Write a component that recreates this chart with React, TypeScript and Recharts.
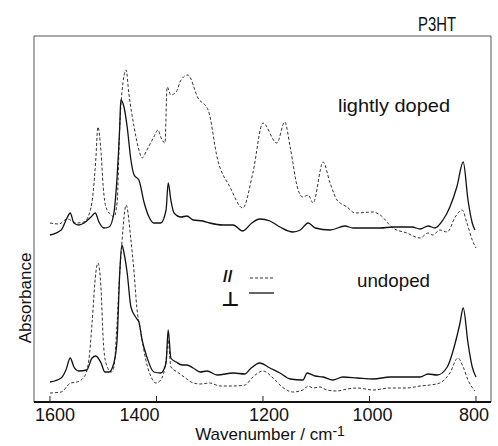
import React from "react";
import { LineChart, Line, XAxis, YAxis, ReferenceArea } from "recharts";

// Wavenumber (cm-1) vs absorbance (arbitrary units, curves offset vertically)
const dopedParallel: [number, number][] = [
  [1600, 179], [1583, 178], [1568, 183], [1549, 179], [1536, 180], [1527, 187], [1519, 209],
  [1514, 242], [1510, 275], [1504, 249], [1500, 215], [1495, 195], [1485, 187], [1480, 185],
  [1474, 199], [1469, 275], [1465, 309], [1457, 332], [1452, 309], [1442, 275], [1433, 252],
  [1427, 244], [1418, 252], [1405, 265], [1397, 272], [1392, 265], [1384, 259], [1380, 315],
  [1373, 307], [1363, 310], [1354, 322], [1341, 327], [1322, 304], [1303, 292], [1285, 242],
  [1262, 215], [1238, 194], [1219, 229], [1200, 279], [1174, 259], [1159, 280], [1149, 255],
  [1134, 212], [1125, 205], [1115, 207], [1106, 199], [1087, 240], [1074, 219], [1061, 202],
  [1042, 195], [1027, 189], [993, 190], [980, 187], [956, 174], [930, 169], [905, 164],
  [890, 169], [881, 167], [868, 172], [854, 170], [839, 185], [826, 192], [817, 179],
  [807, 162], [800, 154],
];

const dopedPerpendicular: [number, number][] = [
  [1600, 167], [1579, 172], [1568, 184], [1562, 189], [1555, 179], [1546, 177], [1536, 179],
  [1523, 185], [1515, 189], [1508, 180], [1499, 174], [1489, 175], [1480, 189], [1474, 225],
  [1469, 275], [1467, 302], [1461, 295], [1455, 275], [1448, 242], [1442, 227], [1433, 222],
  [1423, 199], [1414, 185], [1405, 179], [1392, 179], [1382, 192], [1378, 219], [1373, 202],
  [1367, 189], [1354, 185], [1343, 186], [1331, 182], [1313, 181], [1300, 179], [1275, 177],
  [1256, 177], [1238, 171], [1221, 179], [1206, 183], [1187, 181], [1168, 175], [1144, 170],
  [1130, 172], [1115, 179], [1102, 174], [1074, 172], [1046, 176], [1031, 174], [1005, 174],
  [980, 174], [956, 175], [920, 175], [905, 173], [890, 176], [877, 174], [862, 182],
  [849, 195], [836, 215], [824, 240], [815, 202], [807, 179], [802, 172],
];

const undopedParallel: [number, number][] = [
  [1600, 9], [1579, 10], [1561, 19], [1549, 20], [1536, 25], [1527, 42], [1521, 79],
  [1514, 129], [1510, 139], [1504, 112], [1500, 62], [1495, 39], [1485, 30], [1480, 35],
  [1474, 79], [1469, 129], [1465, 159], [1457, 197], [1448, 162], [1442, 129], [1437, 95],
  [1429, 69], [1420, 42], [1410, 25], [1401, 19], [1392, 22], [1382, 42], [1378, 62],
  [1373, 35], [1361, 30], [1348, 25], [1335, 20], [1318, 18], [1300, 19], [1281, 16],
  [1256, 16], [1234, 17], [1219, 25], [1200, 31], [1181, 24], [1164, 15], [1144, 10],
  [1125, 12], [1115, 16], [1106, 14], [1093, 15], [1080, 12], [1061, 11], [1042, 13],
  [1023, 14], [993, 12], [961, 14], [930, 14], [905, 16], [886, 17], [868, 19], [849, 29],
  [834, 44], [824, 35], [815, 22], [802, 11],
];

const undopedPerpendicular: [number, number][] = [
  [1600, 20], [1579, 24], [1570, 32], [1562, 44], [1555, 35], [1546, 31], [1531, 32],
  [1521, 44], [1514, 46], [1504, 39], [1497, 30], [1489, 30], [1480, 39], [1474, 62],
  [1469, 129], [1465, 157], [1461, 149], [1455, 129], [1448, 95], [1438, 84], [1433, 80],
  [1427, 62], [1418, 45], [1405, 30], [1392, 29], [1382, 39], [1378, 72], [1373, 44],
  [1363, 40], [1352, 37], [1343, 37], [1331, 34], [1318, 30], [1305, 31], [1286, 27],
  [1256, 29], [1234, 28], [1224, 33], [1206, 39], [1187, 34], [1168, 29], [1149, 23],
  [1125, 22], [1117, 29], [1102, 26], [1087, 25], [1069, 22], [1050, 25], [1023, 24],
  [993, 23], [961, 25], [930, 25], [905, 25], [890, 28], [873, 27], [854, 35], [839, 59],
  [830, 79], [824, 94], [815, 59], [807, 35], [800, 25],
];

const xTicks = [1600, 1400, 1200, 1000, 800];
const xDomain: [number, number] = [771.8, 1630];
const yDomain: [number, number] = [0, 366];

const toRows = (arr: [number, number][]) => arr.map(([wn, a]) => ({ wn, a }));

const labelShift: Record<number, number> = { 1600: 5, 1400: -17, 1200: 6, 1000: 3, 800: -2 };

const FONT = "'Liberation Sans', Arial, sans-serif";

const Tick = (props: any) => {
  const { x, y, payload } = props;
  const v = payload.value as number;
  return (
    <g>
      <line x1={x} x2={x} y1={y - 6} y2={y} stroke="#222" strokeWidth={1} />
      <text
        x={x + (labelShift[v] ?? 0)}
        y={y + 19}
        textAnchor="middle"
        fontSize={18}
        fontFamily={FONT}
        fill="#111"
      >
        {v}
      </text>
    </g>
  );
};

export default function App() {
  return (
    <div style={{ position: "absolute", left: 0, top: 0, width: 498, height: 446, background: "#fff" }}>
      <LineChart width={498} height={446} margin={{ top: 36, right: 7, bottom: 0, left: 34 }}>
        <XAxis
          type="number"
          dataKey="wn"
          domain={xDomain}
          reversed
          allowDataOverflow
          ticks={xTicks}
          tickSize={0}
          tickMargin={0}
          tickLine={false}
          tick={<Tick />}
          height={44}
          axisLine={{ stroke: "#111", strokeWidth: 2 }}
        />
        <YAxis type="number" domain={yDomain} hide allowDataOverflow />
        <ReferenceArea
          x1={xDomain[1]}
          x2={xDomain[0]}
          y1={yDomain[0]}
          y2={yDomain[1]}
          fill="none"
          stroke="#555"
          strokeWidth={1}
          ifOverflow="visible"
        />
        <Line data={toRows(dopedParallel)} dataKey="a" type="monotone" stroke="#333" strokeWidth={1} strokeDasharray="3 2" dot={false} isAnimationActive={false} />
        <Line data={toRows(dopedPerpendicular)} dataKey="a" type="monotone" stroke="#111" strokeWidth={1.3} dot={false} isAnimationActive={false} />
        <Line data={toRows(undopedParallel)} dataKey="a" type="monotone" stroke="#333" strokeWidth={1} strokeDasharray="3 2" dot={false} isAnimationActive={false} />
        <Line data={toRows(undopedPerpendicular)} dataKey="a" type="monotone" stroke="#111" strokeWidth={1.3} dot={false} isAnimationActive={false} />
      </LineChart>
      <svg
        width={498}
        height={446}
        style={{ position: "absolute", left: 0, top: 0, pointerEvents: "none" }}
      >
        <text x={418} y={31} fontSize={20} fontFamily={FONT} fill="#111" textLength={38} lengthAdjust="spacingAndGlyphs">P3HT</text>
        <text x={338} y={112} fontSize={19} fontFamily={FONT} fill="#111" textLength={112} lengthAdjust="spacingAndGlyphs">lightly doped</text>
        <text x={357} y={287} fontSize={19} fontFamily={FONT} fill="#111" textLength={73} lengthAdjust="spacingAndGlyphs">undoped</text>
        <text x={223} y={282} fontSize={17} fontFamily={FONT} fontWeight="bold" fill="#111">//</text>
        <line x1={250} x2={275} y1={278} y2={278} stroke="#333" strokeWidth={1} strokeDasharray="3 2" />
        <text x={221} y={306} fontSize={20} fontWeight="bold" fontFamily="'DejaVu Sans', sans-serif" fill="#111">⊥</text>
        <line x1={249} x2={274} y1={293} y2={293} stroke="#111" strokeWidth={1.3} />
        <text
          x={0}
          y={0}
          transform="translate(31,298) rotate(-90)"
          textAnchor="middle"
          fontSize={17}
          fontFamily={FONT}
          fill="#111"
        >
          Absorbance
        </text>
        <text x={270} y={440} textAnchor="middle" fontSize={17} fontFamily={FONT} fill="#111">
          Wavenumber / cm
          <tspan fontSize={14} dy={-4}>-1</tspan>
        </text>
      </svg>
    </div>
  );
}
